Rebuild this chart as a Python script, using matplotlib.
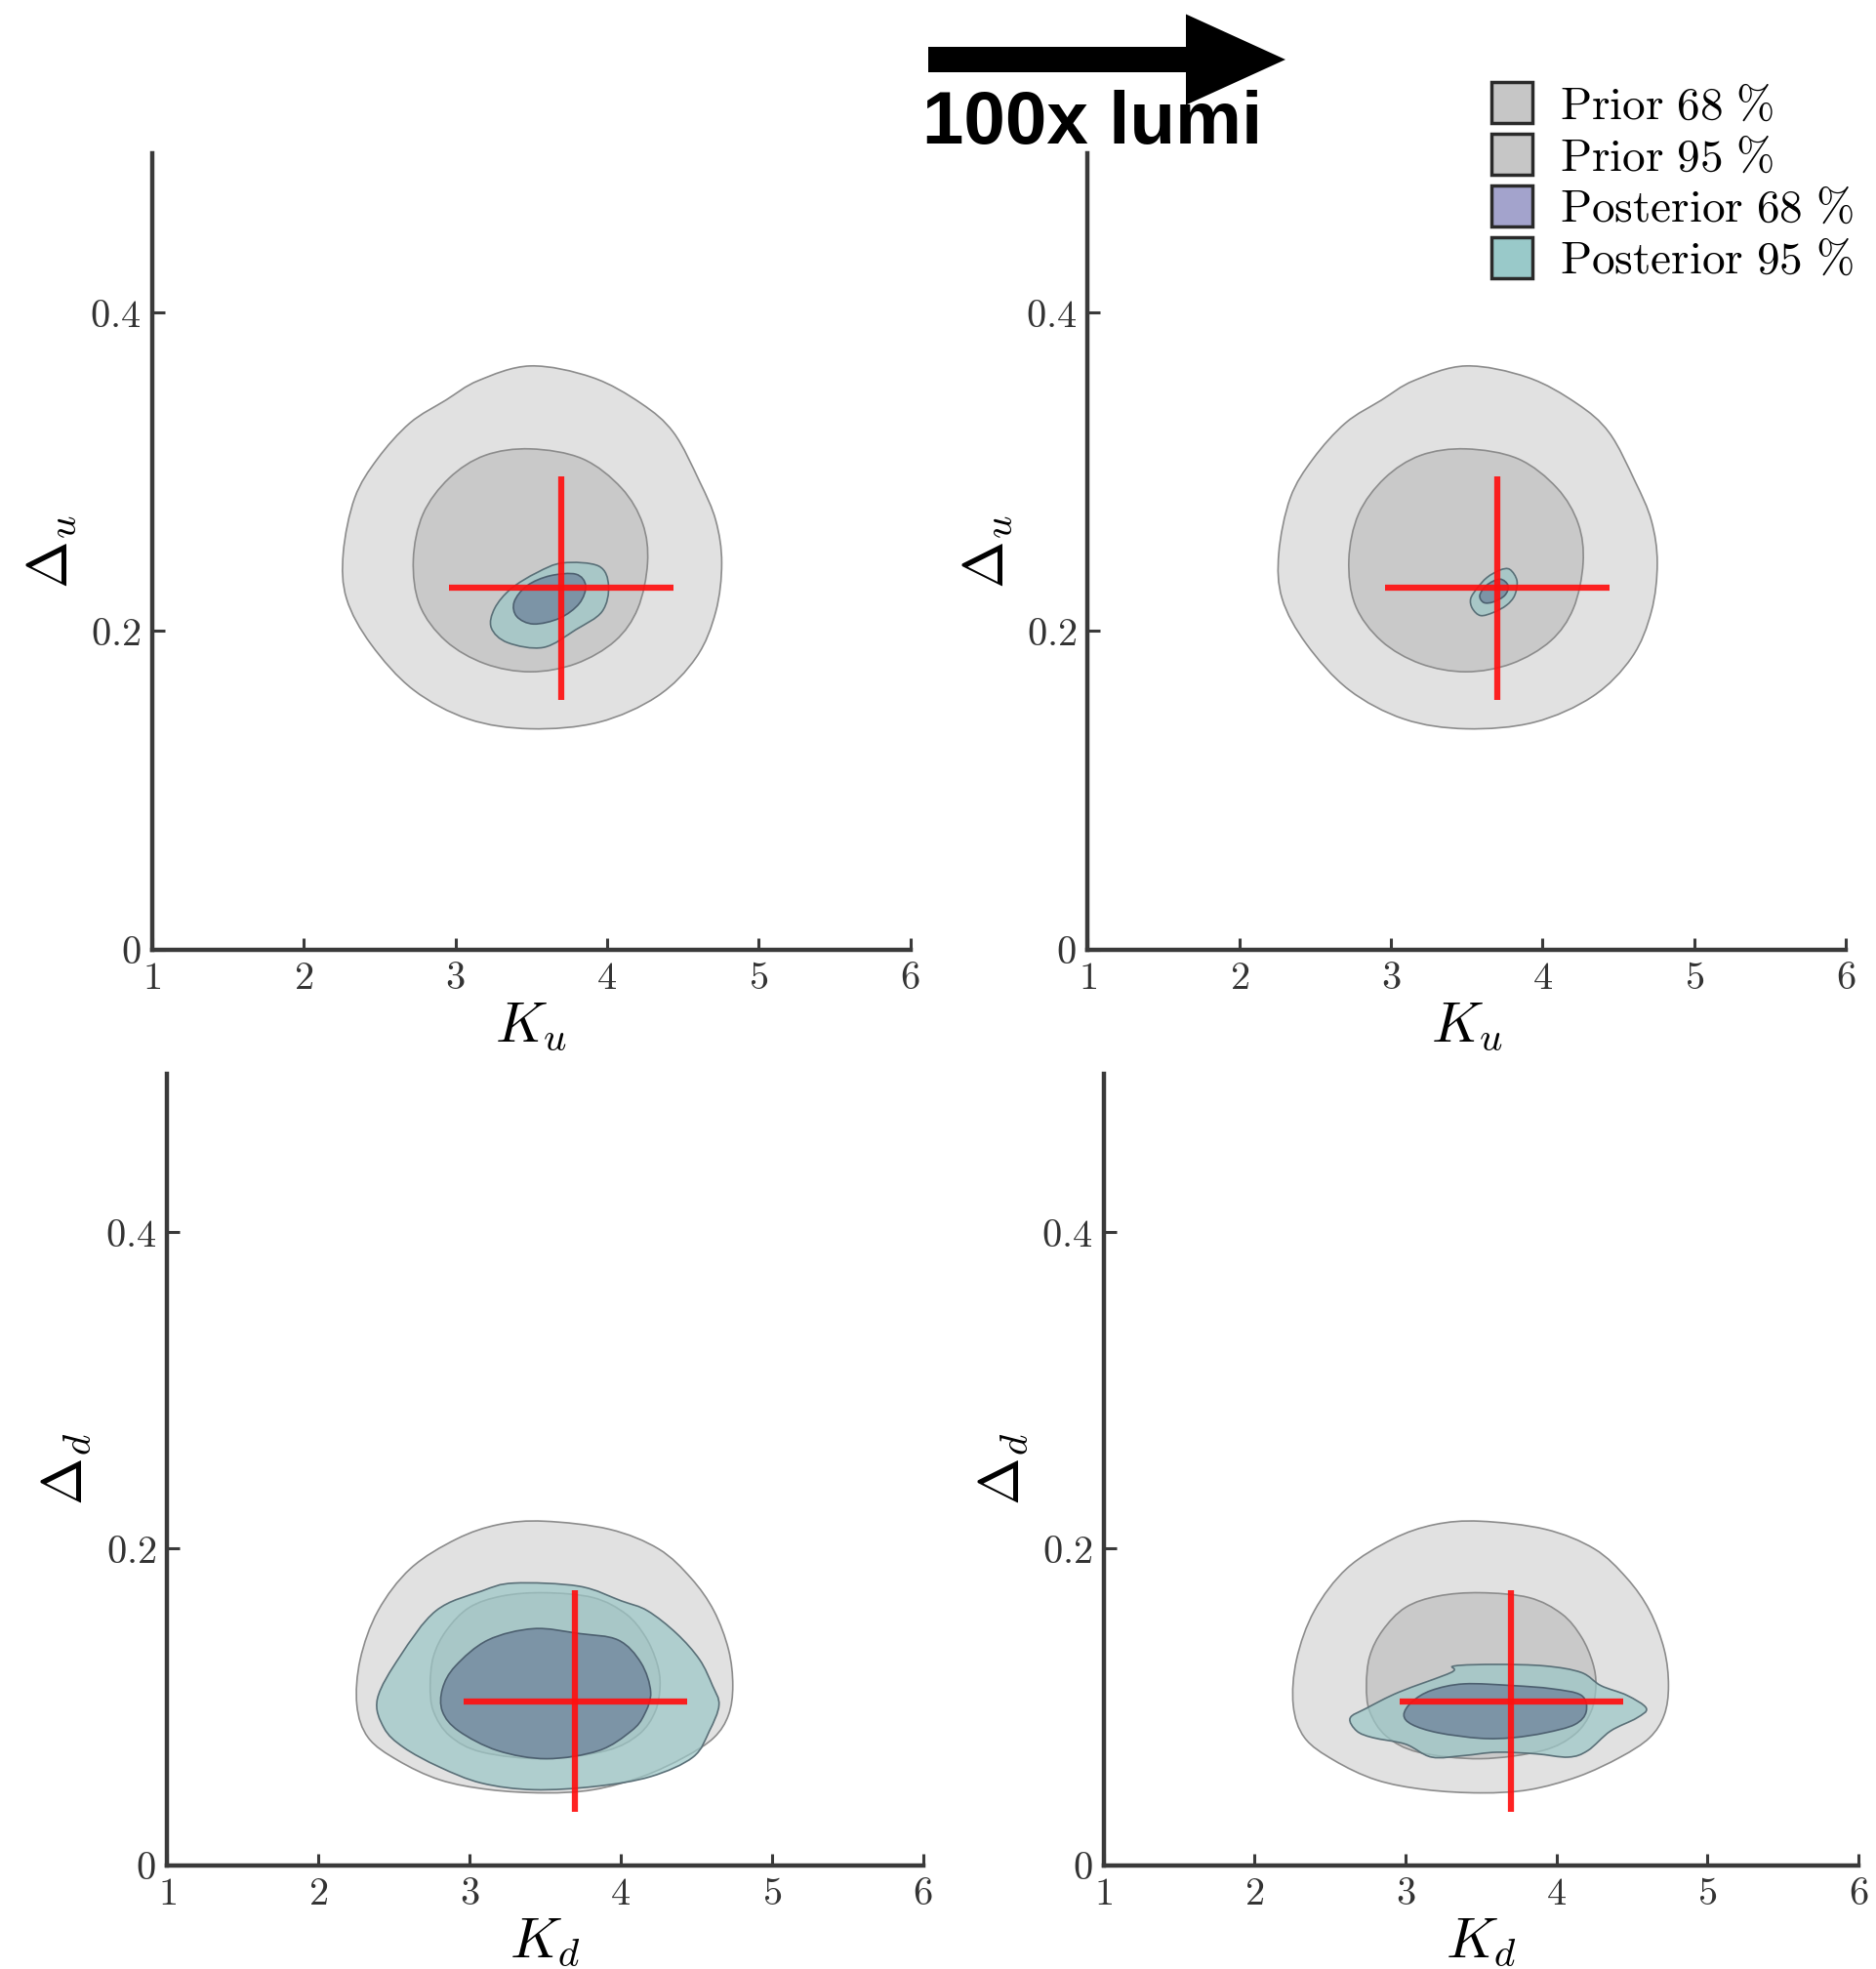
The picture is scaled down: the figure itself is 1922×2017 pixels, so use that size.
import numpy as np
import matplotlib.pyplot as plt
from matplotlib.path import Path
from matplotlib.patches import PathPatch, Patch, FancyArrow
from matplotlib.colors import to_rgba

plt.rcParams['mathtext.fontset'] = 'cm'
plt.rcParams['font.family'] = ['DejaVu Serif']

# Credible-region outlines, closed rings of (K, Delta) points

# up-quark prior (same in both lumi scenarios)
prior_u95_k = [3.495, 3.902, 4.224, 4.439, 4.610, 4.717, 4.756, 4.717, 4.589, 4.331, 3.945,
               3.495, 3.087, 2.723, 2.444, 2.283, 2.261, 2.337, 2.487, 2.701, 2.937, 3.152]
prior_u95_d = [0.3665, 0.3593, 0.3430, 0.3246, 0.2939, 0.2694, 0.2428, 0.2122, 0.1836, 0.1590, 0.1427,
               0.1386, 0.1447, 0.1631, 0.1917, 0.2203, 0.2490, 0.2837, 0.3082, 0.3307, 0.3450, 0.3573]
prior_u68_k = [3.495, 3.838, 4.095, 4.235, 4.267, 4.203, 4.053, 3.795,
               3.495, 3.195, 2.937, 2.765, 2.723, 2.787, 2.959, 3.195]
prior_u68_d = [0.3144, 0.3082, 0.2898, 0.2674, 0.2428, 0.2142, 0.1938, 0.1795,
               0.1744, 0.1795, 0.1938, 0.2163, 0.2449, 0.2735, 0.2960, 0.3103]

# up-quark posterior, current lumi
post_u95_k = [3.709, 3.945, 4.010, 3.967, 3.795, 3.581, 3.345, 3.237, 3.259, 3.366, 3.538]
post_u95_d = [0.2428, 0.2408, 0.2285, 0.2122, 0.2009, 0.1897, 0.1927, 0.2020, 0.2142, 0.2265, 0.2367]
post_u68_k = [3.624, 3.795, 3.859, 3.817, 3.688, 3.516, 3.405, 3.388, 3.473]
post_u68_d = [0.2347, 0.2357, 0.2285, 0.2173, 0.2081, 0.2044, 0.2091, 0.2183, 0.2285]

# up-quark posterior, 100x lumi
post_u95_hl_k = [3.784, 3.831, 3.816, 3.762, 3.676, 3.591, 3.537, 3.526, 3.569, 3.633, 3.719]
post_u95_hl_d = [0.2387, 0.2316, 0.2224, 0.2162, 0.2117, 0.2097, 0.2142, 0.2203, 0.2269, 0.2336, 0.2383]
post_u68_hl_k = [3.719, 3.773, 3.751, 3.676, 3.612, 3.586, 3.633]
post_u68_hl_d = [0.2326, 0.2285, 0.2224, 0.2183, 0.2179, 0.2224, 0.2289]

# down-quark prior
prior_d95_k = [3.496, 3.927, 4.251, 4.466, 4.617, 4.714, 4.742, 4.714, 4.617, 4.423, 4.143, 3.819,
               3.496, 3.129, 2.806, 2.526, 2.331, 2.256, 2.278, 2.396, 2.612, 2.914, 3.194]
prior_d95_d = [0.2173, 0.2122, 0.1998, 0.1813, 0.1607, 0.1361, 0.1134, 0.0949, 0.0805, 0.0682, 0.0559, 0.0476,
               0.0456, 0.0477, 0.0538, 0.0662, 0.0805, 0.1011, 0.1299, 0.1607, 0.1875, 0.2060, 0.2152]
prior_d68_k = [3.496, 3.819, 4.035, 4.164, 4.240, 4.261, 4.229, 4.121, 3.906,
               3.496, 3.086, 2.871, 2.763, 2.741, 2.763, 2.849, 3.000, 3.216]
prior_d68_d = [0.1721, 0.1690, 0.1587, 0.1443, 0.1278, 0.1134, 0.0970, 0.0826, 0.0723,
               0.0672, 0.0713, 0.0816, 0.0970, 0.1134, 0.1320, 0.1484, 0.1628, 0.1700]

# down-quark posterior, current lumi
post_d95_k = [2.392, 2.435, 2.564, 2.801, 3.080, 3.425, 3.833, 4.199, 4.479, 4.587, 4.651,
              4.608, 4.522, 4.371, 4.178, 4.006, 3.726, 3.296, 3.080, 2.779, 2.542]
post_d95_d = [0.1052, 0.0867, 0.0744, 0.0620, 0.0518, 0.0476, 0.0497, 0.0559, 0.0682, 0.0847, 0.1011,
              0.1134, 0.1299, 0.1463, 0.1607, 0.1669, 0.1762, 0.1782, 0.1731, 0.1607, 0.1320]
post_d68_k = [2.822, 2.908, 3.123, 3.425, 3.726, 3.984, 4.135, 4.199, 4.156, 4.070, 3.855, 3.511, 3.188, 2.930, 2.822]
post_d68_d = [0.1114, 0.1258, 0.1422, 0.1494, 0.1463, 0.1422, 0.1278, 0.1093, 0.0949, 0.0847, 0.0723, 0.0672, 0.0723, 0.0847, 0.0970]

# down-quark posterior, 100x lumi
post_d95_hl_k = [2.633, 2.741, 2.957, 3.302, 3.323, 3.604, 3.927, 4.164, 4.294, 4.466, 4.595,
                 4.531, 4.358, 4.207, 4.078, 3.862, 3.604, 3.388, 3.173, 3.000, 2.784, 2.677]
post_d95_hl_d = [0.0929, 0.0991, 0.1093, 0.1217, 0.1258, 0.1268, 0.1258, 0.1217, 0.1134, 0.1073, 0.0991,
                 0.0929, 0.0847, 0.0723, 0.0682, 0.0703, 0.0713, 0.0692, 0.0682, 0.0764, 0.0805, 0.0847]
post_d68_hl_k = [2.989, 3.043, 3.172, 3.388, 3.711, 3.970, 4.164, 4.197, 4.121, 3.927, 3.711, 3.496, 3.216, 3.043]
post_d68_hl_d = [0.0949, 0.1032, 0.1104, 0.1145, 0.1134, 0.1114, 0.1073, 0.0970, 0.0888, 0.0836, 0.0805, 0.0801, 0.0836, 0.0888]

# true values and their plotted error bars
true_k = 3.70
true_delta_u = 0.227
true_delta_d = 0.1035
err_k = 0.74
err_delta = 0.07

xticks = [1, 2, 3, 4, 5, 6]
yticks = [0, 0.2, 0.4]
xtick_labels = [r'$1$', r'$2$', r'$3$', r'$4$', r'$5$', r'$6$']
ytick_labels = [r'$0$', r'$0.2$', r'$0.4$']

legend_labels = [r'$\mathrm{Prior\ 68\ \%}$', r'$\mathrm{Prior\ 95\ \%}$',
                 r'$\mathrm{Posterior\ 68\ \%}$', r'$\mathrm{Posterior\ 95\ \%}$']
legend_colors = ['#c6c6c6', '#c6c6c6', '#a3a3cc', '#99c9c9']


def ring_path(xs, ys):
    """Closed smooth path through the ring of points (Catmull-Rom as Beziers)."""
    p = np.column_stack([xs, ys])
    n = len(p)
    verts = [p[0]]
    codes = [Path.MOVETO]
    for i in range(n):
        p0, p1, p2, p3 = p[i - 1], p[i], p[(i + 1) % n], p[(i + 2) % n]
        verts += [p1 + (p2 - p0) / 6, p2 - (p3 - p1) / 6, p2]
        codes += [Path.CURVE4] * 3
    return Path(verts, codes)


def region(ax, xs, ys, face, edge, alpha=1.0, z=1):
    ax.add_patch(PathPatch(ring_path(xs, ys), facecolor=to_rgba(face, alpha),
                           edgecolor=edge, lw=1.2, zorder=z))


def panel(ax, prior95, prior68, post95, post68, truth_d, xlabel, ylabel):
    region(ax, *prior95, '#e1e1e1', '#8c8c8c', z=1)
    region(ax, *prior68, '#c9c9c9', '#8c8c8c', z=2)
    region(ax, *post95, '#9cc7c7', '#5a7078', alpha=0.72, z=3)
    region(ax, *post68, '#72889e', '#4d6070', alpha=0.8, z=4)
    ax.errorbar(true_k, truth_d, xerr=err_k, yerr=err_delta, fmt='none',
                ecolor='#ff1010', elinewidth=4.5, capsize=0, alpha=0.92, zorder=5)

    ax.set_xlim(1, 6)
    ax.set_ylim(0, 0.5)
    ax.spines['top'].set_visible(False)
    ax.spines['right'].set_visible(False)
    for s in ('left', 'bottom'):
        ax.spines[s].set_linewidth(3.2)
        ax.spines[s].set_color('#3a3a3a')
    ax.set_xticks(xticks, xtick_labels)
    ax.set_yticks(yticks, ytick_labels)
    ax.tick_params(direction='in', length=9, width=2.2, color='#3a3a3a',
                   labelsize=29, labelcolor='#333333', pad=8)
    ax.set_xlabel(xlabel, fontsize=42, labelpad=2)
    ax.set_ylabel(ylabel, fontsize=42, labelpad=8)


fig = plt.figure(figsize=(19.22, 20.17), dpi=100)
ax_tl = fig.add_axes([0.0810, 0.5178, 0.4043, 0.4043])
ax_tr = fig.add_axes([0.5797, 0.5178, 0.4043, 0.4043])
ax_bl = fig.add_axes([0.0890, 0.0528, 0.4030, 0.4018])
ax_br = fig.add_axes([0.5883, 0.0528, 0.4023, 0.4018])

panel(ax_tl, (prior_u95_k, prior_u95_d), (prior_u68_k, prior_u68_d),
      (post_u95_k, post_u95_d), (post_u68_k, post_u68_d), true_delta_u, r'$K_u$', r'$\Delta_u$')
panel(ax_tr, (prior_u95_k, prior_u95_d), (prior_u68_k, prior_u68_d),
      (post_u95_hl_k, post_u95_hl_d), (post_u68_hl_k, post_u68_hl_d), true_delta_u, r'$K_u$', r'$\Delta_u$')
panel(ax_bl, (prior_d95_k, prior_d95_d), (prior_d68_k, prior_d68_d),
      (post_d95_k, post_d95_d), (post_d68_k, post_d68_d), true_delta_d, r'$K_d$', r'$\Delta_d$')
panel(ax_br, (prior_d95_k, prior_d95_d), (prior_d68_k, prior_d68_d),
      (post_d95_hl_k, post_d95_hl_d), (post_d68_hl_k, post_d68_hl_d), true_delta_d, r'$K_d$', r'$\Delta_d$')

# overlay in pixel units for the arrow and its caption
over = fig.add_axes([0, 0, 1, 1], zorder=10)
over.set_xlim(0, 1922)
over.set_ylim(2017, 0)
over.axis('off')
over.patch.set_alpha(0)
over.add_patch(FancyArrow(951, 61, 366, 0, width=26, head_width=93, head_length=102,
                          length_includes_head=True, color='black', lw=0))
over.text(945, 147, '100x lumi', fontsize=55, fontweight='bold', family='Liberation Sans',
          ha='left', va='baseline', color='black')

handles = [Patch(facecolor=c, edgecolor='#2a2a2a', lw=2.5) for c in legend_colors]
fig.legend(handles, legend_labels, loc='upper left', bbox_to_anchor=(1528 / 1922, 1 - 84 / 2017),
           frameon=False, fontsize=34, borderpad=0, borderaxespad=0,
           handlelength=0.88, handleheight=1.0, handletextpad=0.6, labelspacing=0.12)

fig.savefig('out.png', dpi=100)
